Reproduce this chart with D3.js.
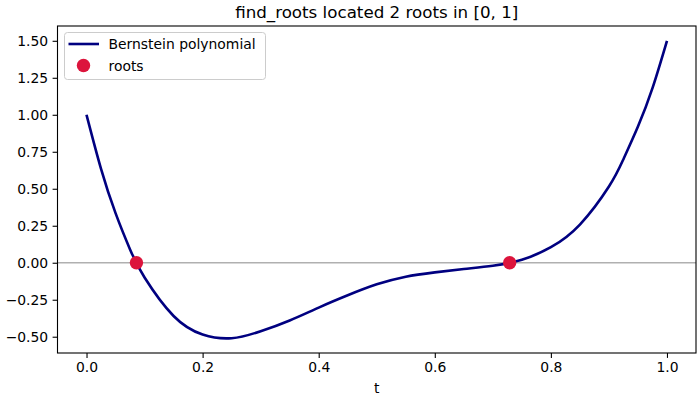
<!DOCTYPE html>
<html>
<head>
<meta charset="utf-8">
<script src="https://cdn.jsdelivr.net/npm/d3@7"></script>
<style>
  body { margin: 0; background: #fff; }
  svg { font-family: 'DejaVu Sans', sans-serif; }
</style>
</head>
<body>
<div id="chart"></div>
<script>
// values
let tValues = [0, 0.025, 0.05, 0.075, 0.1, 0.15, 0.2, 0.25, 0.3, 0.35, 0.4, 0.45, 0.5,
  0.55, 0.6, 0.65, 0.7, 0.75, 0.8, 0.85, 0.9, 0.925, 0.95, 0.975, 1.0]
let polyValues = [1.0, 0.635, 0.335, 0.09, -0.1, -0.36, -0.485, -0.51, -0.463, -0.39, -0.303, -0.22, -0.146,
  -0.094, -0.065, -0.042, -0.02, 0.02, 0.105, 0.258, 0.515, 0.7, 0.92, 1.18, 1.5]
let roots = [0.086, 0.729]
let xTicks = [0, 0.2, 0.4, 0.6, 0.8, 1.0]
let yTicks = [-0.5, -0.25, 0, 0.25, 0.5, 0.75, 1.0, 1.25, 1.5]

let margin = { top: 26, bottom: 47, left: 57.5, right: 4 }
let width = 700 - margin.left - margin.right
let height = 400 - margin.top - margin.bottom

let svg = d3
  .select('#chart')
  .append('svg')
  .attr('width', 700)
  .attr('height', 400)

let g = svg.append('g').attr('transform', `translate(${margin.left},${margin.top})`)

let x = d3.scaleLinear().domain([-0.05, 1.05]).range([0, width])
let y = d3.scaleLinear().domain([-0.61, 1.6]).range([height, 0])

let points = tValues.map((t, i) => ({ t: t, v: polyValues[i] }))

let fmtY = d => d3.format('.2f')(d).replace('-', '\u2212')

let xAxis = g
  .append('g')
  .attr('transform', `translate(0,${height})`)
  .call(d3.axisBottom(x).tickValues(xTicks).tickFormat(d3.format('.1f')).tickSize(4.9).tickPadding(4.4))
let yAxis = g
  .append('g')
  .call(d3.axisLeft(y).tickValues(yTicks).tickFormat(fmtY).tickSize(4.9).tickPadding(4.4))

;[xAxis, yAxis].forEach(a => {
  a.select('.domain').remove()
  a.selectAll('text').attr('font-size', 13.9).attr('fill', '#000').attr('font-family', 'DejaVu Sans')
  a.selectAll('line').attr('stroke', '#000').attr('stroke-width', 1.1)
})

// zero line
g.append('line')
  .attr('x1', 0)
  .attr('x2', width)
  .attr('y1', y(0))
  .attr('y2', y(0))
  .attr('stroke', '#b0b0b0')
  .attr('stroke-width', 1.4)

let line = d3
  .line()
  .x(d => x(d.t))
  .y(d => y(d.v))
  .curve(d3.curveNatural)

g.append('path')
  .datum(points)
  .attr('d', line)
  .attr('fill', 'none')
  .attr('stroke', '#000080')
  .attr('stroke-width', 2.6)

g.selectAll('.root')
  .data(roots)
  .enter()
  .append('circle')
  .attr('class', 'root')
  .attr('cx', d => x(d))
  .attr('cy', y(0))
  .attr('r', 6.7)
  .attr('fill', '#dc143c')

// frame
g.append('rect')
  .attr('width', width)
  .attr('height', height)
  .attr('fill', 'none')
  .attr('stroke', '#000')
  .attr('stroke-width', 1.1)

// title and label
svg.append('text')
  .text('find_roots located 2 roots in [0, 1]')
  .attr('x', margin.left + width / 2)
  .attr('y', 18)
  .attr('text-anchor', 'middle')
  .attr('font-size', 16.7)

svg.append('text')
  .text('t')
  .attr('x', margin.left + width / 2)
  .attr('y', 392.5)
  .attr('text-anchor', 'middle')
  .attr('font-size', 13.9)

// legend
let legend = svg.append('g').attr('transform', 'translate(64.5,32.5)')
legend.append('rect')
  .attr('width', 201)
  .attr('height', 47)
  .attr('rx', 3)
  .attr('fill', '#fff')
  .attr('fill-opacity', 0.8)
  .attr('stroke', '#cccccc')
  .attr('stroke-width', 1)
legend.append('line')
  .attr('x1', 4)
  .attr('x2', 34.5)
  .attr('y1', 11.5)
  .attr('y2', 11.5)
  .attr('stroke', '#000080')
  .attr('stroke-width', 2.6)
legend.append('circle')
  .attr('cx', 19)
  .attr('cy', 33)
  .attr('r', 6.7)
  .attr('fill', '#dc143c')
legend.selectAll('.label')
  .data(['Bernstein polynomial', 'roots'])
  .enter()
  .append('text')
  .attr('class', 'label')
  .text(d => d)
  .attr('x', 44)
  .attr('y', (d, i) => 16.5 + i * 21.5)
  .attr('font-size', 13.9)
</script>
</body>
</html>
